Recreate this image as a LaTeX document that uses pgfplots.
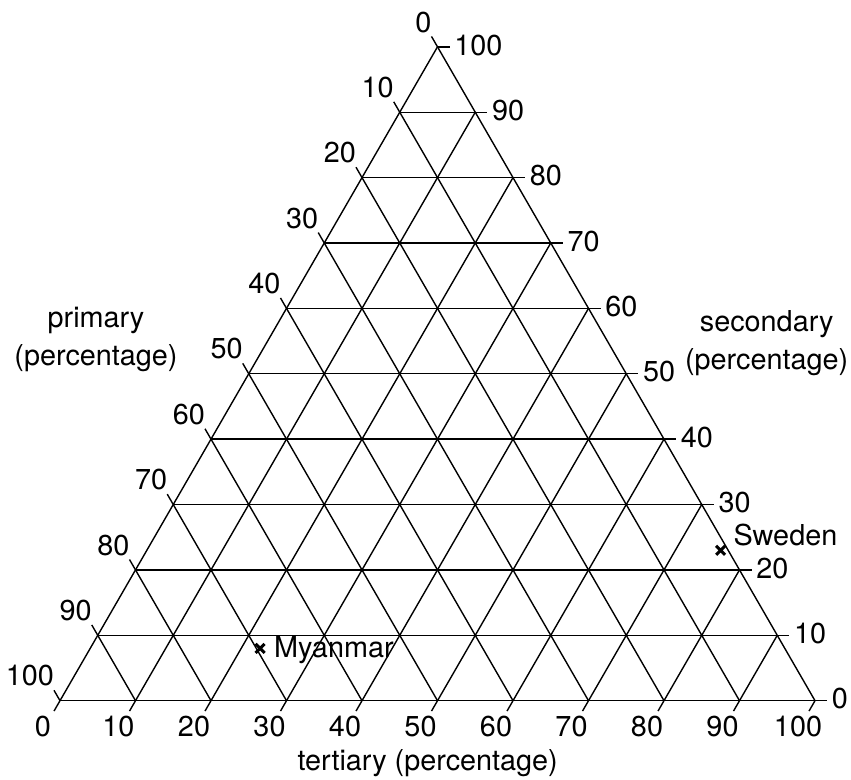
\documentclass[border=0pt]{standalone}
\usepackage{fontspec}
\setmainfont{TeX Gyre Heros}
\usepackage{pgfplots}
\pgfplotsset{compat=1.18}
\tikzset{lab/.style={font=\fontsize{14.4}{19}\selectfont, inner sep=0pt, text=black},
  gridl/.style={line width=0.7pt, black}}
\begin{document}
\begin{tikzpicture}
\useasboundingbox (-30pt,-39.65pt) rectangle (395.5pt,350.35pt);
\begin{axis}[hide axis, x=3.775pt, y=3.775pt, xmin=0, xmax=100, ymin=0, ymax=86.6025,
  clip=false, anchor=origin, at={(0pt,0pt)}]
\pgfplotsinvokeforeach{0,10,20,30,40,50,60,70,80,90,100}{
  % constant secondary (horizontal), tick to the right
  \draw[gridl] (axis cs:{#1*0.5},{#1*0.8660254}) -- (axis cs:{100-#1*0.5+1.59},{#1*0.8660254});
  % constant primary (parallel to right edge), tick up-left
  \draw[gridl] (axis cs:{100-#1},0) -- (axis cs:{(100-#1)*0.5-0.795},{(100-#1)*0.8660254+1.377});
  % constant tertiary (parallel to left edge), tick down-left
  \draw[gridl] (axis cs:{#1-0.795},-1.377) -- (axis cs:{50+#1*0.5},{(100-#1)*0.8660254});
  % labels
  \node[lab, anchor=east, xshift=-2.9pt, yshift=12.4pt] at (axis cs:{(100-#1)*0.5},{(100-#1)*0.8660254}) {#1};
  \node[lab, anchor=west, xshift=8.2pt, yshift=0.9pt] at (axis cs:{100-#1*0.5},{#1*0.8660254}) {#1};
  \node[lab, anchor=center, xshift=-8.5pt, yshift=-13pt] at (axis cs:{#1},0) {#1};
}
\addplot[black, only marks, mark=x, mark size=3.2pt, mark options={line width=1.5pt},
  nodes near coords={Myanmar},
  nodes near coords style={lab, anchor=base west, xshift=6.3pt, yshift=-4.5pt}]
  table[x expr={\thisrow{t}+0.5*\thisrow{s}}, y expr={0.8660254*\thisrow{s}}] {
p s t
69.5 8 22.5
};
\addplot[black, only marks, mark=x, mark size=3.2pt, mark options={line width=1.5pt},
  nodes near coords={Sweden},
  nodes near coords style={lab, anchor=base west, xshift=5.7pt, yshift=2.5pt}]
  table[x expr={\thisrow{t}+0.5*\thisrow{s}}, y expr={0.8660254*\thisrow{s}}] {
p s t
1 23 76
};
\node[lab, align=center] at (axis cs:4.77,47.8) {primary\\(percentage)};
\node[lab, align=center] at (axis cs:93.6,47.4) {secondary\\(percentage)};
\node[lab] at (axis cs:48.7,-8.25) {tertiary (percentage)};
\end{axis}
\end{tikzpicture}
\end{document}
